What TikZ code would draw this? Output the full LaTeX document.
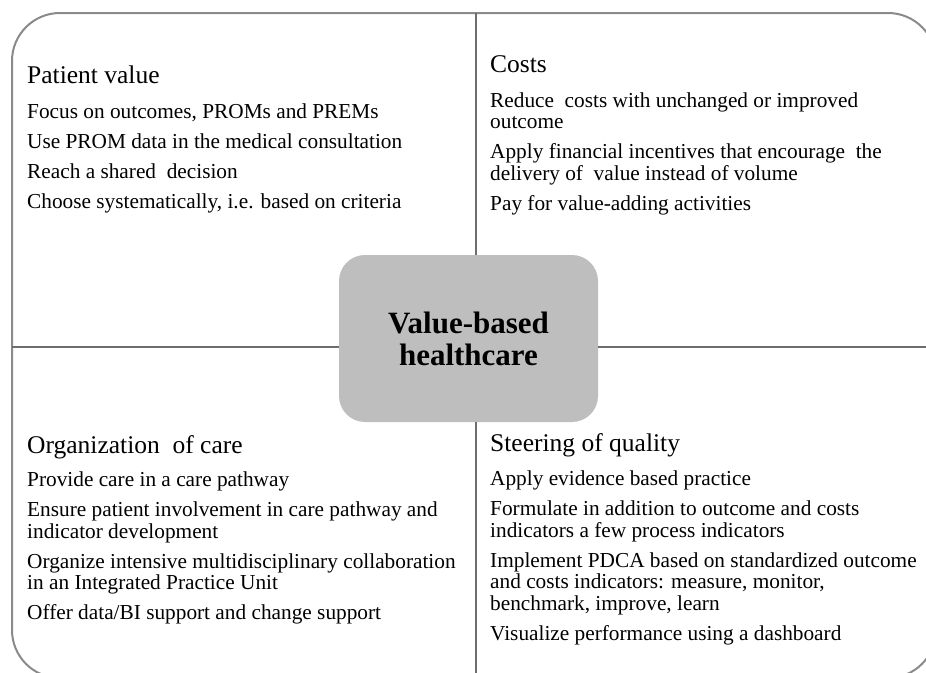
\documentclass[tikz,border=0pt]{standalone}
\usepackage{fontspec}
\setmainfont{Liberation Serif}
\usepackage{tikz}
\usetikzlibrary{positioning}
\definecolor{FrameGrey}{HTML}{8A8A8A}
\definecolor{RuleGrey} {HTML}{6E6E6E}
\definecolor{HubFill}  {HTML}{BEBEBE}
\newcommand{\bodyfont}{\fontsize{21.3}{21.5}\selectfont}
\newcommand{\quadhead}[1]{{\fontsize{25.5}{28}\selectfont #1}}

\begin{document}
\begin{tikzpicture}[x=1pt,y=-1pt,
    frame/.style={draw=FrameGrey,line width=2pt,rounded corners=48pt},
    rule/.style={draw=RuleGrey,line width=1.4pt},
    hub/.style={fill=HubFill,rounded corners=26pt,minimum width=259pt,
                minimum height=167pt,align=center,
                font=\fontsize{31}{32}\selectfont\bfseries},
    % anchored on the baseline of the last line
    quadrant/.style={anchor=base west,inner sep=0pt,align=left,font=\bodyfont}]
  \useasboundingbox (0,0) rectangle (926,672);
  \clip (0,0) rectangle (926,672);
  \draw[frame] (12,13) rectangle (936,678);

  % centre box and the cross of rules
  \node[hub] (hub) at (468.5,338.5) {Value-based\\healthcare};
  \coordinate (top)    at (476,13);
  \coordinate (bottom) at (476,678);
  \coordinate (left)   at (12,347);
  \coordinate (right)  at (936,347);
  \draw[rule] (top) -- (top |- hub.north);
  \draw[rule] (bottom) -- (bottom |- hub.south);
  \draw[rule] (left) -- (left -| hub.west);
  \draw[rule] (right) -- (right -| hub.east);

  % the four quadrants
  \node[quadrant] (patient) at (27,208) {%
    \quadhead{Patient value}\\[13pt]
    Focus on outcomes, PROMs and PREMs\\[8.5pt]
    Use PROM data in the medical consultation\\[8.5pt]
    Reach a shared\ \ decision\\[8.5pt]
    Choose systematically, i.e. based on criteria};
  \node[quadrant] (costs) at (490,210) {%
    \quadhead{Costs}\\[13pt]
    Reduce\ \ costs with unchanged or improved\\
    outcome\\[8.5pt]
    Apply financial incentives that encourage\ \ the\\
    delivery of\ \ value instead of volume\\[8.5pt]
    Pay for value-adding activities};
  \node[quadrant] (organization) at (27,619) {%
    \quadhead{Organization\ \ of care}\\[12pt]
    Provide care in a care pathway\\[8.5pt]
    Ensure patient involvement in care pathway and\\
    indicator development\\[8.5pt]
    Organize intensive multidisciplinary collaboration\\
    in an Integrated Practice Unit\\[8pt]
    Offer data/BI support and change support};
  \node[quadrant] (steering) at (490,640) {%
    \quadhead{Steering of quality}\\[13pt]
    Apply evidence based practice\\[8.5pt]
    Formulate in addition to outcome and costs\\
    indicators a few process indicators\\[8.5pt]
    Implement PDCA based on standardized outcome\\
    and costs indicators: measure, monitor,\\
    benchmark, improve, learn\\[8.5pt]
    Visualize performance using a dashboard};
\end{tikzpicture}
\end{document}
